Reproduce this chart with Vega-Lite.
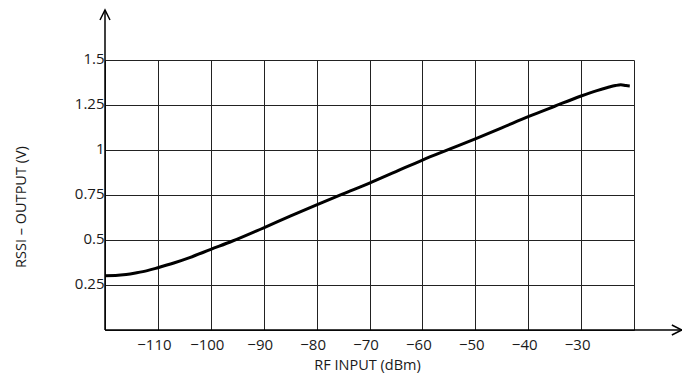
{
  "$schema": "https://vega.github.io/schema/vega-lite/v6.json",
  "width": 529,
  "height": 270,
  "autosize": {"type": "none"},
  "padding": {"left": 105, "top": 60, "right": 48, "bottom": 43},
  "background": "white",
  "config": {
    "view": {"stroke": null},
    "font": "Open Sans",
    "axis": {
      "labelFont": "Open Sans",
      "titleFont": "Open Sans",
      "labelColor": "#1a1a1a",
      "titleColor": "#1a1a1a",
      "labelFontSize": 15,
      "titleFontSize": 14.5,
      "titleFontWeight": "normal",
      "gridColor": "#222222",
      "gridOpacity": 1,
      "gridWidth": 1,
      "domain": false,
      "ticks": false
    }
  },
  "datasets": {
    "curve": [
      {"x": -120, "y": 0.302},
      {"x": -118, "y": 0.303},
      {"x": -116, "y": 0.308},
      {"x": -114, "y": 0.318},
      {"x": -112, "y": 0.33},
      {"x": -110, "y": 0.346},
      {"x": -107, "y": 0.372},
      {"x": -104, "y": 0.402},
      {"x": -100, "y": 0.448},
      {"x": -96, "y": 0.493},
      {"x": -90, "y": 0.568},
      {"x": -85, "y": 0.632},
      {"x": -80, "y": 0.695},
      {"x": -75, "y": 0.756},
      {"x": -70, "y": 0.816},
      {"x": -65, "y": 0.88},
      {"x": -60, "y": 0.944},
      {"x": -55, "y": 1.003},
      {"x": -50, "y": 1.062},
      {"x": -45, "y": 1.123},
      {"x": -40, "y": 1.185},
      {"x": -35, "y": 1.243},
      {"x": -30, "y": 1.3},
      {"x": -27, "y": 1.33},
      {"x": -25, "y": 1.347},
      {"x": -23.5, "y": 1.358},
      {"x": -22.5, "y": 1.362},
      {"x": -21.5, "y": 1.358},
      {"x": -20.8, "y": 1.356}
    ],
    "yarrow": [{"x": -120, "y": 0, "y2": 1.778}],
    "xarrow": [{"x": -120, "x2": -10.9, "y": 0}],
    "yhead": [{"x": -120, "y": 1.75}],
    "xhead": [{"x": -11.9, "y": 0}]
  },
  "layer": [
    {
      "data": {"name": "curve"},
      "mark": {"type": "line", "color": "black", "strokeWidth": 3, "interpolate": "monotone", "clip": false},
      "encoding": {
        "x": {
          "field": "x",
          "type": "quantitative",
          "scale": {"domain": [-120, -20], "nice": false, "zero": false},
          "axis": {
            "values": [-120, -110, -100, -90, -80, -70, -60, -50, -40, -30, -20],
            "grid": true,
            "labelExpr": "datum.value == -120 || datum.value == -20 ? '' : datum.label",
            "labelPadding": 7,
            "labelOffset": -4,
            "labelBaseline": "top",
            "title": "RF INPUT (dBm)",
            "titleX": 262,
            "titleY": 39,
            "titleBaseline": "alphabetic",
            "titleAnchor": null,
            "titleAlign": "center"
          }
        },
        "y": {
          "field": "y",
          "type": "quantitative",
          "scale": {"domain": [0, 1.5], "nice": false, "zero": false},
          "axis": {
            "values": [0, 0.25, 0.5, 0.75, 1, 1.25, 1.5],
            "grid": true,
            "labelExpr": "datum.value == 0 ? '' : '' + datum.value",
            "labelPadding": 1,
            "labelOffset": -2,
            "labelBaseline": "middle",
            "title": "RSSI – OUTPUT (V)",
            "titleX": -79.5,
            "titleY": 146.5,
            "titleAngle": -90,
            "titleBaseline": "alphabetic",
            "titleAnchor": null,
            "titleAlign": "center"
          }
        }
      }
    },
    {
      "data": {"name": "yarrow"},
      "mark": {"type": "rule", "color": "black", "strokeWidth": 1.5, "clip": false},
      "encoding": {
        "x": {"field": "x", "type": "quantitative"},
        "y": {"field": "y", "type": "quantitative"},
        "y2": {"field": "y2"}
      }
    },
    {
      "data": {"name": "xarrow"},
      "mark": {"type": "rule", "color": "black", "strokeWidth": 1.5, "clip": false},
      "encoding": {
        "x": {"field": "x", "type": "quantitative"},
        "x2": {"field": "x2"},
        "y": {"field": "y", "type": "quantitative"}
      }
    },
    {
      "data": {"name": "yhead"},
      "mark": {"type": "point", "shape": "M-1,1L0,-1L1,1", "size": 100, "filled": false, "stroke": "black", "strokeWidth": 1.5, "opacity": 1, "clip": false},
      "encoding": {
        "x": {"field": "x", "type": "quantitative"},
        "y": {"field": "y", "type": "quantitative"}
      }
    },
    {
      "data": {"name": "xhead"},
      "mark": {"type": "point", "shape": "M-1,-1L1,0L-1,1", "size": 100, "filled": false, "stroke": "black", "strokeWidth": 1.5, "opacity": 1, "clip": false},
      "encoding": {
        "x": {"field": "x", "type": "quantitative"},
        "y": {"field": "y", "type": "quantitative"}
      }
    }
  ]
}
